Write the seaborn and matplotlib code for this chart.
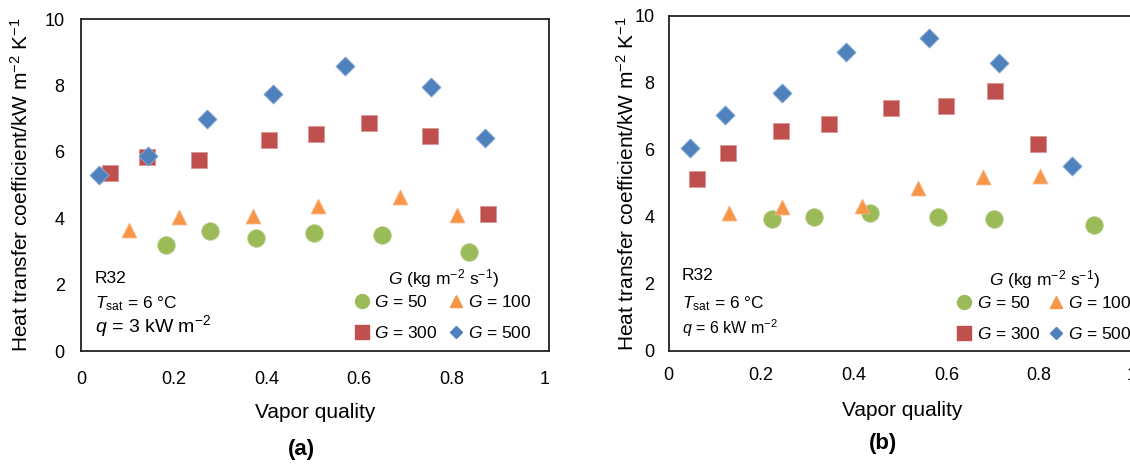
import matplotlib
matplotlib.use('Agg')
import matplotlib.pyplot as plt
from matplotlib.lines import Line2D
import seaborn as sns
import pandas as pd

# panel (a): q = 3 kW m-2
a_x_50 = [0.183, 0.277, 0.378, 0.503, 0.650, 0.837]
a_h_50 = [3.19, 3.61, 3.40, 3.56, 3.49, 2.98]
a_x_100 = [0.103, 0.210, 0.370, 0.511, 0.687, 0.811]
a_h_100 = [3.65, 4.03, 4.07, 4.38, 4.63, 4.10]
a_x_300 = [0.061, 0.142, 0.253, 0.406, 0.506, 0.620, 0.752, 0.877]
a_h_300 = [5.35, 5.85, 5.77, 6.37, 6.54, 6.86, 6.48, 4.13]
a_x_500 = [0.039, 0.144, 0.272, 0.413, 0.569, 0.755, 0.871]
a_h_500 = [5.30, 5.87, 7.00, 7.73, 8.59, 7.96, 6.41]

# panel (b): q = 6 kW m-2
b_x_50 = [0.223, 0.314, 0.435, 0.581, 0.703, 0.919]
b_h_50 = [3.92, 3.99, 4.10, 3.99, 3.94, 3.75]
b_x_100 = [0.130, 0.246, 0.417, 0.538, 0.679, 0.802]
b_h_100 = [4.12, 4.30, 4.33, 4.87, 5.19, 5.22]
b_x_300 = [0.061, 0.128, 0.242, 0.347, 0.480, 0.600, 0.704, 0.798]
b_h_300 = [5.12, 5.91, 6.55, 6.77, 7.25, 7.32, 7.76, 6.17]
b_x_500 = [0.047, 0.123, 0.244, 0.384, 0.562, 0.714, 0.871]
b_h_500 = [6.04, 7.03, 7.70, 8.91, 9.34, 8.58, 5.51]

mass_flux = [50, 100, 300, 500]
x_ticks = [0, 0.2, 0.4, 0.6, 0.8, 1]
x_tick_labels = ['0', '0.2', '0.4', '0.6', '0.8', '1']
y_ticks = [0, 2, 4, 6, 8, 10]

colors = {50: '#9BBB59', 100: '#F79646', 300: '#C0504D', 500: '#4F81BD'}
edges = {50: '#B5CD85', 100: '#F9B385', 300: '#DA9694', 500: '#8DB0DA'}
markers = {50: 'o', 100: '^', 300: 's', 500: 'D'}
sizes = {50: 160, 100: 115, 300: 135, 500: 95}
leg_ms = {50: 10, 100: 8, 300: 9.5, 500: 6.5}

sns.set_style('white')
plt.rcParams['font.family'] = ['Liberation Sans', 'DejaVu Sans']
plt.rcParams['mathtext.fontset'] = 'custom'
plt.rcParams['mathtext.rm'] = 'Liberation Sans'
plt.rcParams['mathtext.it'] = 'Liberation Sans:italic'
plt.rcParams['text.color'] = 'black'
plt.rcParams['axes.labelcolor'] = 'black'
plt.rcParams['xtick.color'] = 'black'
plt.rcParams['ytick.color'] = 'black'

fig = plt.figure(figsize=(11.3, 4.65), dpi=100)
ax_a = fig.add_axes([0.072, 0.245, 0.414, 0.714])
ax_b = fig.add_axes([0.5916, 0.246, 0.414, 0.720])

panels = [
    (ax_a, {50: (a_x_50, a_h_50), 100: (a_x_100, a_h_100),
            300: (a_x_300, a_h_300), 500: (a_x_500, a_h_500)}, 0.963, 0.03, 0.6),
    (ax_b, {50: (b_x_50, b_h_50), 100: (b_x_100, b_h_100),
            300: (b_x_300, b_h_300), 500: (b_x_500, b_h_500)}, 0.99, 0.025, 0.45),
]

for ax, series, lx, ly, colsp in panels:
    for g in mass_flux:
        df = pd.DataFrame({'x': series[g][0], 'h': series[g][1]})
        sns.scatterplot(data=df, x='x', y='h', ax=ax, marker=markers[g], s=sizes[g],
                        color=colors[g], edgecolor=edges[g], linewidth=0.6, zorder=3)
    ax.set_xlim(0, 1.01)
    ax.set_ylim(0, 10)
    ax.set_xticks(x_ticks)
    ax.set_xticklabels(x_tick_labels)
    ax.set_yticks(y_ticks)
    ax.set_xlabel('Vapor quality', fontsize=15)
    ax.set_ylabel(r'Heat transfer coefficient/kW m$^{-2}$ K$^{-1}$', fontsize=15, va='center')
    for sp in ax.spines.values():
        sp.set_color('#222222')
        sp.set_linewidth(1.3)
    ax.tick_params(length=0, labelsize=13)

    # legend: row 1 -> 50, 100; row 2 -> 300, 500
    order = [50, 300, 100, 500]
    handles = [Line2D([], [], ls='none', marker=markers[g], color=colors[g], ms=leg_ms[g])
               for g in order]
    labels = ['$G$ = %d' % g for g in order]
    leg = ax.legend(handles, labels, ncol=2, loc='lower right', bbox_to_anchor=(lx, ly),
                    frameon=False, fontsize=12.5, handlelength=0.9, handletextpad=0.25,
                    columnspacing=colsp, labelspacing=0.85, borderpad=0, borderaxespad=0,
                    title=r'$G$ (kg m$^{-2}$ s$^{-1}$)', title_fontsize=12.5)
    leg._legend_box.sep = 3

ax_a.tick_params(axis='x', pad=14)
ax_a.tick_params(axis='y', pad=12)
ax_b.tick_params(axis='x', pad=11.5)
ax_b.tick_params(axis='y', pad=10)
ax_a.yaxis.set_label_coords(-0.13, 0.5)
ax_b.yaxis.set_label_coords(-0.09, 0.5)
ax_a.xaxis.set_label_coords(0.5, -0.155)
ax_b.xaxis.set_label_coords(0.5, -0.15)

ax_a.text(0.029, 0.206, 'R32', fontsize=12.5, transform=ax_a.transAxes)
ax_a.text(0.029, 0.13, r'$T_{\mathrm{sat}}$ = 6 °C', fontsize=12.5, transform=ax_a.transAxes)
ax_a.text(0.029, 0.056, r'$q$ = 3 kW m$^{-2}$', fontsize=14, transform=ax_a.transAxes)
ax_b.text(0.028, 0.211, 'R32', fontsize=12.5, transform=ax_b.transAxes)
ax_b.text(0.028, 0.125, r'$T_{\mathrm{sat}}$ = 6 °C', fontsize=12.5, transform=ax_b.transAxes)
ax_b.text(0.028, 0.05, r'$q$ = 6 kW m$^{-2}$', fontsize=11.5, transform=ax_b.transAxes)

fig.text(301 / 1130, 1 - 449 / 465, '(a)', fontsize=16, fontweight='bold', ha='center', va='center')
fig.text(883 / 1130, 1 - 443 / 465, '(b)', fontsize=16, fontweight='bold', ha='center', va='center')

fig.savefig('out.png', dpi=100)
